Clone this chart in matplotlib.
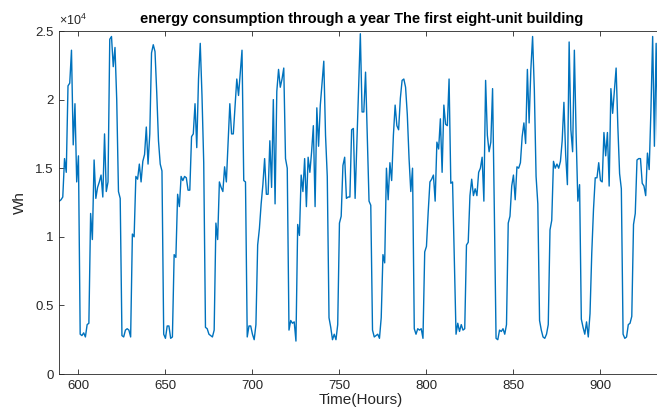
import numpy as np
import matplotlib
matplotlib.use('Agg')
import matplotlib.pyplot as plt
from matplotlib.ticker import FuncFormatter

plt.rcParams['font.family'] = ['Liberation Sans', 'DejaVu Sans']
plt.rcParams['mathtext.fontset'] = 'custom'
plt.rcParams['mathtext.rm'] = 'Liberation Sans'

# hourly consumption of the first eight-unit building (Wh), hours 589..933
first_hour = 589
wh = [
    12600, 12700, 12900, 15700, 14700, 21000, 21200, 23600, 16700, 19700, 14000, 15900,
    2900, 2800, 3000, 2700, 3600, 3700, 11700, 9800, 15600, 12800, 13600, 14000,
    14500, 12900, 17500, 13300, 14000, 24400, 24600, 22400, 23800, 20000, 13300, 12800,
    2800, 2700, 3200, 3300, 3200, 2700, 10200, 10000, 14400, 14200, 15300, 14000,
    15500, 16000, 18000, 15300, 17500, 23400, 24000, 23500, 20500, 17000, 15300, 14800,
    2900, 2600, 3500, 3500, 2600, 2700, 8700, 8500, 13100, 12200, 14400, 14100,
    14400, 14300, 13400, 13400, 17300, 17500, 19700, 16500, 21500, 24100, 20300, 15400,
    3400, 3300, 2900, 2800, 2700, 3200, 11000, 9800, 14000, 13600, 13300, 15100,
    14000, 16900, 19700, 17500, 17500, 19500, 21500, 20300, 22000, 23600, 14100, 14000,
    2700, 3500, 3500, 2900, 2500, 3600, 9400, 10600, 12400, 13800, 15700, 13100,
    13100, 17000, 13600, 20000, 12400, 20600, 22200, 20900, 21500, 22300, 15700, 15000,
    3200, 3900, 3700, 3800, 2400, 10900, 10100, 14500, 13300, 15700, 12200, 15800,
    14700, 16200, 18100, 12200, 19400, 16600, 19600, 21200, 22800, 17400, 14400, 4100,
    3400, 2500, 2900, 2500, 3600, 11000, 11500, 15200, 15800, 12800, 12900, 12900,
    17800, 17900, 12800, 16800, 20800, 24800, 19100, 19100, 22000, 17400, 12600, 12300,
    3200, 2700, 2800, 2900, 2600, 4100, 8700, 8100, 15000, 12700, 15400, 14100,
    17400, 19600, 18100, 17800, 20100, 21400, 21500, 20900, 18900, 15700, 13300, 15000,
    3300, 2900, 3300, 3200, 3300, 2600, 8900, 9300, 11800, 14000, 14200, 14500,
    12600, 16900, 16400, 18600, 14700, 19600, 18200, 18100, 21500, 13900, 14000, 8500,
    2900, 3700, 3100, 3600, 3200, 3300, 9400, 9600, 13000, 14200, 13000, 13500,
    13000, 14700, 15000, 15800, 12600, 21400, 17400, 16200, 16900, 20800, 12000, 2600,
    2500, 3200, 3100, 3300, 2900, 3600, 11000, 11500, 13700, 14500, 12700, 15100,
    15000, 15400, 17300, 18300, 16800, 22200, 18300, 22200, 24600, 20700, 14400, 12400,
    3900, 3200, 2700, 2600, 2900, 3600, 10500, 11200, 15500, 15000, 15300, 15000,
    15500, 17000, 19800, 16000, 13800, 24200, 17800, 16200, 23600, 17500, 12600, 13800,
    4000, 3400, 2900, 3800, 2700, 4400, 8800, 12000, 14300, 14300, 15400, 14100,
    14000, 17600, 15900, 17600, 13700, 20800, 19000, 20600, 22300, 18000, 14600, 13500,
    2900, 2600, 2700, 3600, 3700, 4200, 10900, 11700, 15600, 15700, 15700, 13900,
    13700, 13000, 16100, 14900, 19200, 24600, 16600, 24100, 16000,
]
hours = np.arange(first_hour, first_hour + len(wh))

x_ticks = [600, 650, 700, 750, 800, 850, 900]
y_ticks = [0, 5000, 10000, 15000, 20000, 25000]

axis_grey = '#262626'

fig = plt.figure(figsize=(6.57, 4.19), dpi=100)
# the right edge of the axes runs just past the figure border
ax = fig.add_axes([59.3 / 657, 1 - 374 / 419, (663.1 - 59.3) / 657, 343 / 419])
ax.plot(hours, wh, color='#0072BD', linewidth=1.0)

ax.set_xlim(589, 936)
ax.set_ylim(0, 25000)
ax.set_xticks(x_ticks)
ax.set_yticks(y_ticks)
ax.yaxis.set_major_formatter(FuncFormatter(lambda v, pos: f'{v / 1e4:g}'))
ax.tick_params(direction='in', top=True, right=True, length=3.5, width=0.6,
               color=axis_grey, labelcolor=axis_grey, labelsize=9.5, pad=4)
for s in ax.spines.values():
    s.set_color(axis_grey)
    s.set_linewidth(0.6)

ax.text(0.0, 1.008, r'$\times10^{4}$', transform=ax.transAxes, ha='left', va='bottom',
        fontsize=9, color=axis_grey)
ax.set_title('energy consumption through a year The first eight-unit building',
             fontsize=10.5, fontweight='bold', pad=6)
ax.set_xlabel('Time(Hours)', fontsize=11, color=axis_grey, labelpad=1)
ax.set_ylabel('Wh', fontsize=11, color=axis_grey, labelpad=6)

fig.savefig('out.png', dpi=100, facecolor='white')
